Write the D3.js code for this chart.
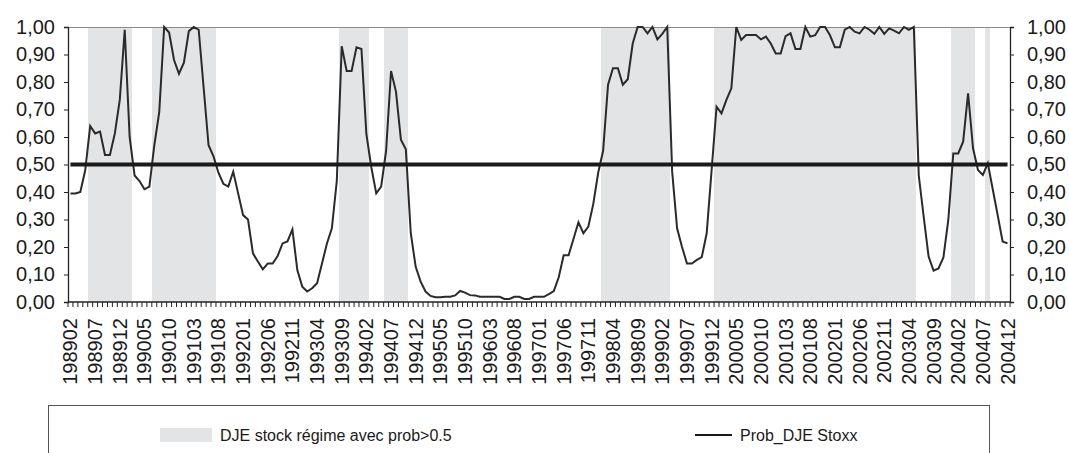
<!DOCTYPE html>
<html>
<head>
<meta charset="utf-8">
<script src="https://cdn.jsdelivr.net/npm/d3@7"></script>
<style>
  body { margin: 0; background: #fff; }
  svg { display: block; font-family: "Liberation Sans", Arial, sans-serif; }
</style>
</head>
<body>
<svg width="1069" height="453"></svg>
<script>
// monthly categories, 1989-02 .. 2004-12
var months = d3.timeMonth.range(new Date(1989, 1, 1), new Date(2005, 0, 1));
var fmt = d3.timeFormat("%Y%m");

// Prob_DJE Stoxx
var prob = [
  0.395, 0.395, 0.40, 0.48, 0.64, 0.613, 0.62, 0.535, 0.535, 0.613,
  0.735, 0.99, 0.60, 0.46, 0.44, 0.41, 0.42, 0.57, 0.69, 1.00,
  0.98, 0.88, 0.83, 0.87, 0.985, 1.00, 0.99, 0.78, 0.57, 0.53,
  0.47, 0.43, 0.42, 0.474, 0.395, 0.316, 0.30, 0.177, 0.147, 0.119,
  0.14, 0.14, 0.167, 0.213, 0.22, 0.264, 0.116, 0.056, 0.038, 0.05,
  0.068, 0.14, 0.213, 0.268, 0.44, 0.93, 0.84, 0.84, 0.926, 0.92,
  0.61, 0.49, 0.395, 0.42, 0.55, 0.84, 0.765, 0.59, 0.555, 0.25,
  0.128, 0.074, 0.038, 0.022, 0.017, 0.017, 0.019, 0.019, 0.024, 0.04,
  0.034, 0.025, 0.024, 0.019, 0.019, 0.019, 0.019, 0.019, 0.011, 0.011,
  0.019, 0.019, 0.011, 0.011, 0.019, 0.019, 0.019, 0.029, 0.04, 0.09,
  0.17, 0.17, 0.23, 0.29, 0.25, 0.274, 0.356, 0.47, 0.55, 0.79,
  0.85, 0.85, 0.79, 0.81, 0.94, 1.00, 1.00, 0.977, 1.00, 0.955,
  0.975, 1.00, 0.474, 0.268, 0.20, 0.14, 0.14, 0.153, 0.163, 0.25,
  0.48, 0.71, 0.686, 0.735, 0.777, 1.00, 0.953, 0.971, 0.971, 0.971,
  0.955, 0.965, 0.94, 0.904, 0.904, 0.967, 0.977, 0.92, 0.92, 1.00,
  0.965, 0.97, 1.00, 1.00, 0.97, 0.926, 0.926, 0.99, 1.00, 0.983,
  0.977, 1.00, 0.99, 0.975, 1.00, 0.975, 0.995, 0.987, 0.977, 1.00,
  0.99, 1.00, 0.46, 0.31, 0.165, 0.114, 0.122, 0.162, 0.30, 0.54,
  0.54, 0.583, 0.759, 0.56, 0.48, 0.462, 0.505, 0.41, 0.316, 0.22,
  0.213
];

var threshold = 0.5;
var yTicks = [0, 0.1, 0.2, 0.3, 0.4, 0.5, 0.6, 0.7, 0.8, 0.9, 1.0];
var labelEvery = 5;

var data = months.map(function (m, i) {
  return { m: m, key: fmt(m), v: prob[i], regime: prob[i] > threshold ? 1 : 0 };
});

var plot = { left: 68, right: 1010, top: 27, bottom: 302 };

var svg = d3.select("svg");

var x = d3.scaleBand()
  .domain(data.map(function (d) { return d.key; }))
  .range([plot.left, plot.right])
  .padding(0);
var cx = function (d) { return x(d.key) + x.bandwidth() / 2; };

var y = d3.scaleLinear().domain([0, 1]).range([plot.bottom, plot.top]);

//regime shading
svg.append("g")
  .selectAll("rect")
  .data(data.filter(function (d) { return d.regime === 1; }))
  .enter().append("rect")
  .attr("x", function (d) { return x(d.key); })
  .attr("width", x.bandwidth())
  .attr("y", y(1))
  .attr("height", y(0) - y(1))
  .attr("fill", "#e3e4e6")
  .attr("shape-rendering", "crispEdges");

//top border
svg.append("line")
  .attr("x1", plot.left).attr("x2", plot.right)
  .attr("y1", y(1)).attr("y2", y(1))
  .attr("stroke", "#8a8a8a").attr("stroke-width", 1)
  .attr("shape-rendering", "crispEdges");

var tickFmt = function (d) { return d.toFixed(2).replace(".", ","); };

//left axis
var gl = svg.append("g")
  .attr("transform", "translate(" + plot.left + ",0)")
  .call(d3.axisLeft(y).tickValues(yTicks).tickSize(4).tickPadding(9).tickFormat(tickFmt));

//right axis
var gr = svg.append("g")
  .attr("transform", "translate(" + plot.right + ",0)")
  .call(d3.axisRight(y).tickValues(yTicks).tickSize(4).tickPadding(13).tickFormat(tickFmt));

[gl, gr].forEach(function (g) {
  g.select(".domain").attr("stroke", "#222").attr("stroke-width", 1.3);
  g.selectAll(".tick line").attr("stroke", "#222");
  g.selectAll(".tick text")
    .attr("font-size", 20)
    .attr("font-family", "Liberation Sans, Arial, sans-serif")
    .attr("fill", "#1a1a1a");
});

//bottom axis
var gb = svg.append("g");
gb.append("line")
  .attr("x1", plot.left).attr("x2", plot.right)
  .attr("y1", plot.bottom).attr("y2", plot.bottom)
  .attr("stroke", "#222").attr("stroke-width", 1.3);
gb.selectAll("line.tk")
  .data(data.map(function (d) { return x(d.key); }).concat([plot.right]))
  .enter().append("line")
  .attr("class", "tk")
  .attr("x1", function (d) { return d; }).attr("x2", function (d) { return d; })
  .attr("y1", plot.bottom).attr("y2", plot.bottom + 5)
  .attr("stroke", "#222").attr("stroke-width", 1);
gb.selectAll("text")
  .data(data.filter(function (d, i) { return i % labelEvery === 0; }))
  .enter().append("text")
  .attr("transform", function (d) { return "translate(" + cx(d) + "," + (plot.bottom + 16) + ") rotate(-90)"; })
  .attr("text-anchor", "end")
  .attr("dy", "0.35em")
  .attr("font-size", 20)
  .attr("fill", "#1a1a1a")
  .text(function (d) { return d.key; });

//series line
var line = d3.line()
  .x(cx)
  .y(function (d) { return y(d.v); });

svg.append("path")
  .datum(data)
  .attr("d", line)
  .attr("fill", "none")
  .attr("stroke", "#2a2a2a")
  .attr("stroke-width", 2)
  .attr("stroke-linejoin", "miter");

//0.5 line
svg.append("line")
  .attr("x1", cx(data[0])).attr("x2", cx(data[data.length - 1]))
  .attr("y1", y(threshold)).attr("y2", y(threshold))
  .attr("stroke", "#1a1a1a").attr("stroke-width", 4);

//legend
var lg = svg.append("g");
lg.append("rect")
  .attr("x", 48.5).attr("y", 405.5)
  .attr("width", 941).attr("height", 70)
  .attr("fill", "#fff").attr("stroke", "#555").attr("stroke-width", 1);
lg.append("rect")
  .attr("x", 160).attr("y", 428)
  .attr("width", 52).attr("height", 14)
  .attr("fill", "#e3e4e6");
lg.append("text")
  .attr("x", 220).attr("y", 441)
  .attr("font-size", 16).attr("fill", "#1a1a1a")
  .text("DJE stock régime avec prob>0.5");
lg.append("line")
  .attr("x1", 695).attr("x2", 732)
  .attr("y1", 435).attr("y2", 435)
  .attr("stroke", "#1a1a1a").attr("stroke-width", 2);
lg.append("text")
  .attr("x", 740).attr("y", 441)
  .attr("font-size", 16).attr("fill", "#1a1a1a")
  .text("Prob_DJE Stoxx");
</script>
</body>
</html>
